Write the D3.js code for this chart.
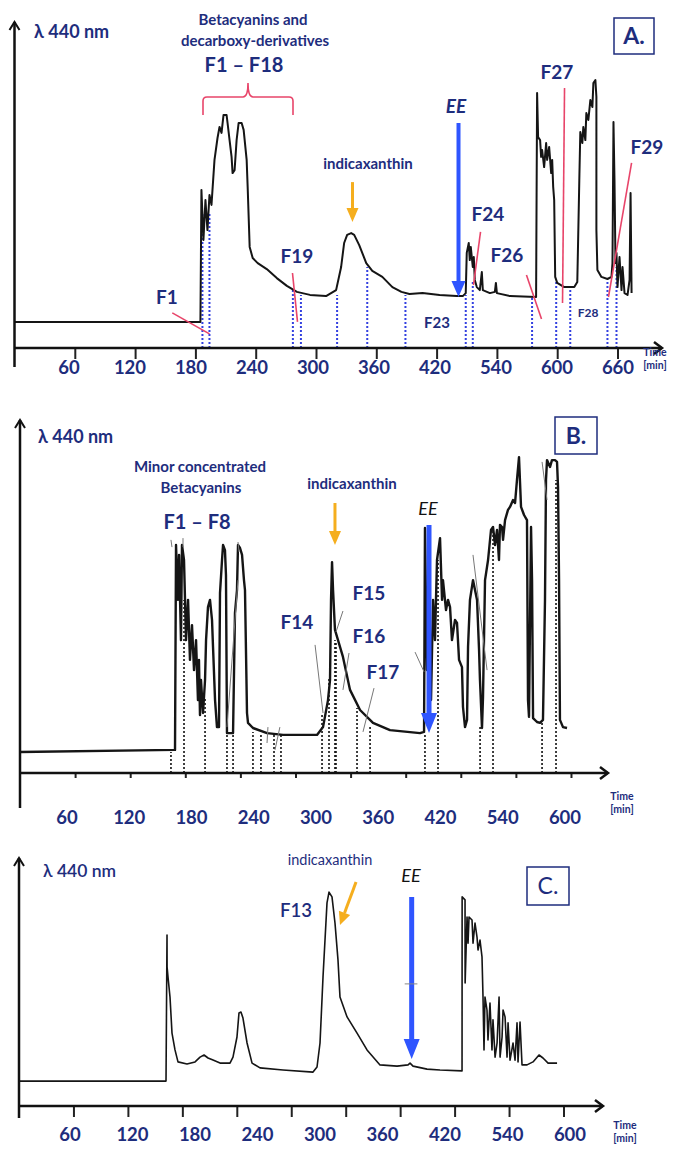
<!DOCTYPE html>
<html>
<head>
<meta charset="utf-8">
<script src="https://cdn.jsdelivr.net/npm/d3@7"></script>
<style>
body{margin:0;background:#fff;}
svg text{font-family:Lato,"Open Sans",sans-serif;}
</style>
</head>
<body>
<div id="chart"></div>
<script>
// ---- données (temps en min "position", signal en unités arbitraires) ----
const ticksAll = [60,120,180,240,300,360,420,480,540,600]
const labelsA = ["60","120","180","240","300","360","420","540","600","660"]
const labelsB = ["60","120","180","240","300","360","420","540","600"]
const labelsC = ["60","120","180","240","300","360","420","540","600"]

// trace A
const traceA = [[0,8.7],[185,8.7],[186,52.7],[188,36],[190,49.3],[192,39.3],[194,51],[196,47.7],[199,62.7],[202,70],[204,73.7],[206,71.7],[208,77.7],[211,77.7],[212,75],[214,69.3],[216,63.7],[217,58.3],[219,59.3],[221,69.3],[223,75],[226,75],[228,72.7],[231,62.7],[232,53.7],[234,33.7],[237,30],[242,28.3],[251,26.3],[261,23.3],[271,20.7],[281,18.7],[294,17.7],[310,17.3],[320,19.3],[325,27],[328,35],[331,37.7],[335,38.3],[338,37.7],[343,34.3],[350,28.3],[356,25.7],[366,23.7],[376,20.3],[385,18.7],[393,18],[406,18.3],[423,17.7],[440,17.3],[446,17.3],[449,18.3],[450,31.7],[452,35],[453,29.3],[454,33.7],[456,27],[457,30.3],[458,22.7],[460,20.3],[463,19.3],[465,25.3],[466,19.3],[473,18.3],[478,18.7],[479,21.7],[480,18.3],[493,17.3],[519,17],[520,85],[521,70.3],[523,69.3],[524,63.7],[525,66],[527,60.3],[529,68.3],[530,62.7],[532,67],[534,58.3],[535,62.7],[536,53.7],[537,49.3],[538,23.7],[540,21.7],[547,20.3],[557,20.3],[560,22],[562,56],[563,72],[565,68.3],[566,73.7],[568,69.3],[569,78.3],[571,76],[573,82.7],[575,80.3],[576,88.3],[578,89.3],[579,83.7],[579,39.3],[580,26],[584,23.7],[590,23],[594,23.7],[595,28.3],[596,75.3],[597,56],[598,28.3],[599,31.7],[600,20.3],[602,30.3],[604,19.3],[605,27],[607,18.3],[610,17.7],[612,22.7],[613,51.7],[614,18.3]]
// fractions A : [temps, hauteur]
const cutsA = [[187,45.3],[194,45.3],[277,20],[285,17.7],[321,17.7],[351,27],[389,17.7],[449,17.7],[456,22.7],[515,17],[539,22.7],[553,19.3],[590,22.7],[599,27]]
// traits rouges A : [t1,v1,t2,v2]
const pointersA = [[157,11.7,194,4.7],[276.6,25,281.6,8.7],[463.7,38.7,456.7,21],[509.4,24.3,524.4,9.7],[547.3,86.7,545.3,15],[614,61.7,591,17]]

// trace B
const traceB = [[0,7],[168.8,7.7],[169.9,76],[172,57.7],[173.2,72.7],[175.3,44.3],[176.4,76],[178.6,71],[180.8,44.3],[183,57.7],[185.1,37.7],[187.3,49.3],[189.5,34.3],[191.7,44.3],[193.8,24.3],[194.9,37.7],[196,19.3],[197.1,31],[199.3,20],[201.5,31],[202.6,44.3],[204.7,55.3],[206.9,57.7],[209.1,51],[210.2,42],[212.4,24.3],[214.5,15.3],[216.7,15.3],[217.8,60],[220,71],[221.1,76],[223.2,74.3],[224.3,66],[225.4,13.3],[232,13.3],[234.1,53.3],[236.3,61],[237.4,76],[239.6,75],[241.8,72.7],[243.9,64.3],[245,61],[247.2,20],[248.3,16.7],[253.7,15],[269,13.3],[286.4,12.7],[323.4,12.7],[330,15.3],[335.4,24.3],[337.6,31],[338.7,57.7],[339.8,70.3],[340.9,61],[343,47.7],[351.7,38.7],[359.4,27.7],[370.3,21],[384.4,16.7],[402.9,14.3],[435.6,13.3],[440,13.7],[441,81.7],[442.1,57.7],[443.2,34.3],[445.4,64.3],[447.6,24.3],[449.8,57.7],[451.9,44.3],[454.1,71],[457.4,78.3],[459.6,57.7],[460.6,64.3],[463.9,54.3],[466.1,57.7],[468.3,55.3],[470.4,44.3],[473.7,51],[475.9,50],[478.1,37.7],[481.3,35.3],[482.4,22],[484.6,15.3],[486.8,17.7],[487.9,42],[490,57.7],[493.3,64.3],[495.5,61],[497.7,57.7],[499.9,41],[500.9,31],[503.1,15],[504.2,25.3],[506.4,64.3],[509.7,71],[512.9,81],[515.1,82],[517.3,76],[519.5,81],[521.6,71],[522.7,82.7],[524.9,82],[526,77.7],[528.2,84.3],[531.4,87.7],[533.6,88.7],[536.9,91],[539.1,90],[541.2,97.7],[543.4,105.3],[545.6,88.7],[548.9,86],[552.1,84.3],[553.2,24.3],[554.3,18.7],[556.5,82],[557.6,64.3],[558.7,18.3],[563,17],[566.3,16.7],[569.5,17.7],[571.7,57.7],[572.8,97.7],[573.9,104.3],[577.2,102],[579.3,104.3],[582.6,104.3],[584.8,103.7],[585.9,95.3],[587,64.3],[588,17.7],[591.3,15.3],[595.7,15]]
const cutsB = [[164.4,7],[178.6,57.7],[201.5,25.3],[225.4,12.7],[232,13.3],[253.7,13.7],[262.4,13.3],[276.6,13.3],[284.2,12.7],[328.9,20],[336.5,32],[343,44.3],[344.1,43.3],[367,21.7],[381.2,15.3],[441,13.3],[455.2,71],[501,15.3],[515.1,81],[568.5,16.7],[583.7,97.7]]
const pointersB = [[321.3,42.7,330,20],[351.7,54,344.1,47],[358.3,40,351.7,27.7],[385.5,28.3,373.5,13.7],[430.2,40.3,440,33.7],[493.3,72.7,508.6,34.3],[568.5,103.7,573.9,91],[237.4,64.3,225.4,15.3],[270,15.3,269,10],[283,15.3,277.7,7.7],[164.4,77.7,165.5,75.3],[177.5,78.3,177.5,75.3],[237.4,77,238.5,73.7]]

// trace C
const traceC = [[0,8.3],[162,8.3],[163.1,57],[163.2,46.3],[164.2,43],[166.4,36.3],[168.6,24.3],[171.9,18.7],[175.2,14.7],[185.1,14],[194,14.7],[199.5,16.3],[203.9,17],[208.3,16],[213.8,15.3],[221.5,14.3],[232.5,14.3],[235.8,16.3],[240.2,23],[242.4,31],[244.6,31.3],[246.8,29.3],[251.3,21],[256.8,14.3],[265.6,12.7],[290.9,12],[324,11.3],[328.4,13],[331.7,21],[335,43],[339.4,67.7],[341.6,71.3],[344.9,69.7],[348.2,61],[351.5,48.7],[353.7,36.3],[361.5,29.7],[372.5,24.3],[383.5,18.7],[397.8,13.7],[416.6,13.3],[428.7,13.7],[430.9,14.3],[434.2,13.3],[449.6,12.3],[463.9,12],[488.2,11.7],[488.3,69.7],[491.5,68.7],[491.6,41],[493.7,63],[494.8,54.3],[495.9,63],[499.2,62],[500.3,54.3],[502.5,61],[504.7,56.3],[505.8,52],[508,55.3],[510.2,49.7],[511.3,36.3],[512.4,18.7],[513.5,36.3],[515.7,32],[516.8,22],[519,34.3],[521.2,18.7],[522.3,28.7],[524.6,16.3],[526.8,21],[529,36.3],[530.1,16.3],[532.3,23],[533.4,32],[535.6,29.7],[537.8,16.3],[538.9,27.7],[541.1,15.3],[544.4,21],[546.6,15.3],[548.8,27.7],[549.9,14.7],[552.1,28],[554.3,13.7],[559.8,13.7],[566.4,14.7],[573,17],[577.4,16],[583,14.3],[587.4,14.3],[592.9,14.3]]

const navy = "#1e2d7d"
const rouge = "#e8456a"
const bleu = "#2f55ff"
const orange = "#f5ae1e"

const svg = d3.select("#chart").append("svg")
    .attr("width", 674)
    .attr("height", 1149)

// ---- panneaux ----
function panel(p){
  let x = d3.scaleLinear().domain([0, 660]).range(p.xr)
  let y = d3.scaleLinear().domain([0, 100]).range(p.yr)
  let g = svg.append("g")

  // fractions (pointillés)
  g.selectAll("line.cut").data(p.cuts).enter()
    .append("line")
    .attr("x1", d => x(d[0])).attr("x2", d => x(d[0]))
    .attr("y1", y(0)).attr("y2", d => y(d[1]))
    .attr("stroke", p.cutColor)
    .attr("stroke-width", p.cutWidth)
    .attr("stroke-dasharray", "2,2")

  // trace
  g.append("path")
    .datum(p.trace)
    .attr("d", d3.line().x(d => x(d[0])).y(d => y(d[1])))
    .attr("fill", "none")
    .attr("stroke", "#151515")
    .attr("stroke-width", p.lineWidth)
    .attr("stroke-linejoin", "round")

  // traits d'annotation
  g.selectAll("line.ptr").data(p.pointers).enter()
    .append("line")
    .attr("x1", d => x(d[0])).attr("y1", d => y(d[1]))
    .attr("x2", d => x(d[2])).attr("y2", d => y(d[3]))
    .attr("stroke", p.ptrColor)
    .attr("stroke-width", p.ptrWidth)

  // axe x : graduations
  let axis = g.append("g")
    .attr("transform", "translate(0," + y(0) + ")")
    .call(d3.axisBottom(x).tickValues(ticksAll).tickSize(p.tickLen).tickFormat(""))
  axis.select(".domain").remove()
  axis.selectAll(".tick line").attr("stroke", "#222").attr("stroke-width", 2)

  // étiquettes de l'axe
  let lx = d3.scalePoint().domain(p.labels).range(p.lr)
  g.selectAll("text.lab").data(p.labels).enter()
    .append("text")
    .text(d => d)
    .attr("x", d => lx(d))
    .attr("y", p.labY)
    .attr("text-anchor", "middle")
    .attr("font-size", "18.5px")
    .attr("font-weight", "bold")
    .attr("fill", navy)

  // lignes d'axe + flèches
  let x0 = p.xr[0], yb = y(0)
  g.append("line").attr("x1", x0).attr("x2", p.xEnd).attr("y1", yb).attr("y2", yb)
    .attr("stroke", "#111").attr("stroke-width", 2.5)
  g.append("path").attr("d", "M" + (p.xEnd - 8) + "," + (yb - 6) + "L" + p.xEnd + "," + yb + "L" + (p.xEnd - 8) + "," + (yb + 6))
    .attr("fill", "none").attr("stroke", "#111").attr("stroke-width", 2.5)
  g.append("line").attr("x1", x0).attr("x2", x0).attr("y1", p.yTop).attr("y2", p.yBot)
    .attr("stroke", "#111").attr("stroke-width", 2.5)
  g.append("path").attr("d", "M" + (x0 - 5) + "," + (p.yTop + 8) + "L" + x0 + "," + p.yTop + "L" + (x0 + 5) + "," + (p.yTop + 8))
    .attr("fill", "none").attr("stroke", "#111").attr("stroke-width", 2)

  // Time [min]
  g.append("text").text("Time").attr("x", p.timeX).attr("y", p.timeY)
    .attr("text-anchor", "middle").attr("font-size", "10.5px").attr("font-weight", "bold").attr("fill", navy)
  g.append("text").text("[min]").attr("x", p.timeX).attr("y", p.timeY + 13)
    .attr("text-anchor", "middle").attr("font-size", "10.5px").attr("font-weight", "bold").attr("fill", navy)

  return {x: x, y: y, g: g}
}

function fleche(g, xa, ya, xb, yb, col, w, hw, hl){
  let ang = Math.atan2(yb - ya, xb - xa)
  let bx = xb - hl * Math.cos(ang), by = yb - hl * Math.sin(ang)
  g.append("line").attr("x1", xa).attr("y1", ya).attr("x2", bx).attr("y2", by)
    .attr("stroke", col).attr("stroke-width", w)
  let px = -Math.sin(ang) * hw, py = Math.cos(ang) * hw
  g.append("path")
    .attr("d", "M" + xb + "," + yb + "L" + (bx + px) + "," + (by + py) + "L" + (bx - px) + "," + (by - py) + "Z")
    .attr("fill", col)
}

function texte(g, s, x, y, size, opt){
  opt = opt || {}
  return g.append("text").text(s)
    .attr("x", x).attr("y", y)
    .attr("text-anchor", opt.anchor || "middle")
    .attr("font-size", size + "px")
    .attr("font-weight", opt.weight || "bold")
    .attr("font-style", opt.italic ? "italic" : "normal")
    .attr("fill", opt.color || navy)
}

function boite(g, x, y, w, h, s, wt){
  g.append("rect").attr("x", x).attr("y", y).attr("width", w).attr("height", h)
    .attr("fill", "none").attr("stroke", navy).attr("stroke-width", 1.5)
  texte(g, s, x + w / 2, y + h / 2 + 8, 23, {weight: wt})
}

// ---- A ----
let A = panel({xr: [14.5, 14.5 + 660 * 1.005], yr: [348, 48], trace: traceA, cuts: cutsA, cutColor: "#3340e0", cutWidth: 2,
  pointers: pointersA, ptrColor: rouge, ptrWidth: 1.6, lineWidth: 2, tickLen: 11, labels: labelsA, lr: [69, 618], labY: 374,
  xEnd: 662, yTop: 22, yBot: 367, timeX: 655, timeY: 356})

texte(A.g, "λ 440 nm", 34, 38, 18, {anchor: "start"})
texte(A.g, "Betacyanins and", 253, 25, 15)
texte(A.g, "decarboxy-derivatives", 255, 46, 15)
texte(A.g, "F1 – F18", 244, 72, 20)
// accolade
A.g.append("path")
  .attr("d", "M203,115 L203,101 Q203,97 207,97 L243,97 Q248,97 248,83 Q248,97 253,97 L289,97 Q293,97 293,101 L293,115")
  .attr("fill", "none").attr("stroke", rouge).attr("stroke-width", 1.6)
texte(A.g, "indicaxanthin", 368, 169, 15)
fleche(A.g, A.x(336.3), A.y(55.3), A.x(336.3), A.y(42), orange, 3, 6, 14)
texte(A.g, "EE", 456, 113, 19, {italic: true})
fleche(A.g, A.x(441.8), A.y(75), A.x(441.8), A.y(17), bleu, 4, 7, 16)
boite(A.g, 614, 18, 40, 36, "A.", "bold")
texte(A.g, "F27", 557, 79, 19)
texte(A.g, "F29", 647, 154, 19)
texte(A.g, "F24", 488, 221, 19)
texte(A.g, "F26", 507, 262, 19)
texte(A.g, "F19", 297, 263, 19)
texte(A.g, "F1", 167, 304, 19)
texte(A.g, "F23", 437, 328, 15)
texte(A.g, "F28", 588, 317, 12)

// ---- B ----
let B = panel({xr: [20, 20 + 660 * 0.9183], yr: [773, 473], trace: traceB, cuts: cutsB, cutColor: "#111", cutWidth: 1.6,
  pointers: pointersB, ptrColor: "#777", ptrWidth: 1, lineWidth: 2.4, tickLen: 5, labels: labelsB, lr: [67, 565], labY: 824,
  xEnd: 608, yTop: 420, yBot: 808, timeX: 622, timeY: 800})

texte(B.g, "λ 440 nm", 38, 443, 18, {anchor: "start"})
texte(B.g, "Minor concentrated", 200, 472, 15)
texte(B.g, "Betacyanins", 201, 493, 15)
texte(B.g, "F1 – F8", 197, 529, 20)
texte(B.g, "indicaxanthin", 352, 489, 15)
fleche(B.g, B.x(343), B.y(90), B.x(343), B.y(76), orange, 3, 6, 14)
texte(B.g, "EE", 428, 515, 18, {italic: true, weight: "normal", color: "#111"})
fleche(B.g, B.x(445.4), B.y(82.7), B.x(445.4), B.y(13.3), bleu, 5, 8, 20)
boite(B.g, 555, 417, 42, 37, "B.", "bold")
texte(B.g, "F14", 297, 629, 19)
texte(B.g, "F15", 369, 600, 19)
texte(B.g, "F16", 369, 643, 19)
texte(B.g, "F17", 383, 679, 19)

// ---- C ----
let C = panel({xr: [19, 19 + 660 * 0.9075], yr: [1106, 806], trace: traceC, cuts: [], cutColor: "#111", cutWidth: 1,
  pointers: [], ptrColor: "#777", ptrWidth: 1, lineWidth: 1.6, tickLen: 11, labels: labelsC, lr: [70, 570], labY: 1141,
  xEnd: 603, yTop: 858, yBot: 1118, timeX: 625, timeY: 1129})

texte(C.g, "λ 440 nm", 43, 877, 17.5, {anchor: "start", weight: 600})
texte(C.g, "indicaxanthin", 330, 865, 14.5, {weight: "normal"})
texte(C.g, "F13", 296, 917, 18.5, {weight: 600})
fleche(C.g, C.x(371.4), C.y(74.7), C.x(353.7), C.y(60.3), orange, 3, 6, 13)
texte(C.g, "EE", 411, 882, 18, {italic: true, weight: "normal", color: "#111"})
fleche(C.g, C.x(432.7), C.y(69.7), C.x(432.7), C.y(15.7), bleu, 5, 8, 20)
C.g.append("line").attr("x1", C.x(425)).attr("x2", C.x(439)).attr("y1", C.y(40.7)).attr("y2", C.y(40.7))
  .attr("stroke", "#888").attr("stroke-width", 1)
boite(C.g, 527, 867, 42, 38, "C.", "normal")
</script>
</body>
</html>
